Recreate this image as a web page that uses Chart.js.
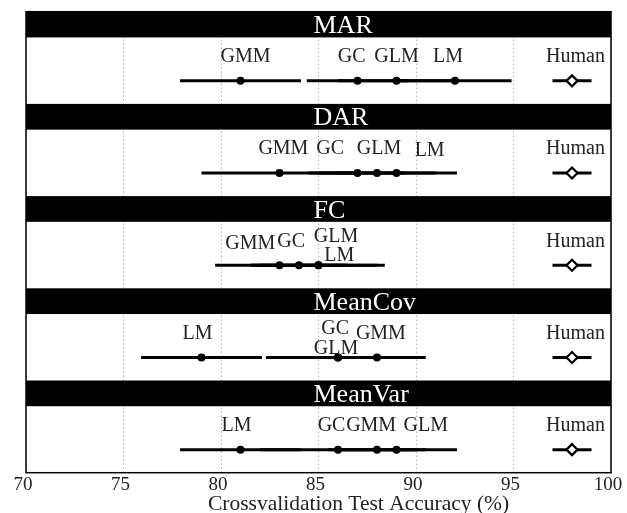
<!DOCTYPE html>
<html><head><meta charset="utf-8">
<script src="https://cdn.jsdelivr.net/npm/chart.js@4/dist/chart.umd.min.js"></script>
<style>html,body{margin:0;padding:0;background:#fff}</style>
</head><body>
<canvas id="c" width="627" height="513"></canvas>
<script>
// ---- data ----
const panels = ['MAR', 'DAR', 'FC', 'MeanCov', 'MeanVar'];
const methods = ['GMM', 'GC', 'GLM', 'LM'];
const marAcc = [81, 87, 89, 92];
const marErr = [3.1, 2.6, 3.0, 2.9];
const darAcc = [83, 87, 88, 89];
const darErr = [4.0, 2.5, 3.0, 3.1];
const fcAcc = [83, 84, 85, 85];
const fcErr = [3.3, 2.5, 3.4, 3.0];
const meanCovAcc = [88, 86, 86, 79];
const meanCovErr = [2.5, 3.7, 3.0, 3.1];
const meanVarAcc = [88, 86, 89, 81];
const meanVarErr = [2.5, 4.0, 3.1, 3.1];
const humanLabel = 'Human';
const humanAcc = 98;
const humanErr = 1.0;
const xTicks = [70, 75, 80, 85, 90, 95, 100];
const xTitle = 'Crossvalidation Test Accuracy (%)';

// ---- layout (label nudges: dx in data units, dy in px) ----
const labelNudge = [
  [[0.26, 0], [-0.3, 0], [0, 0], [-0.36, 0]],
  [[0.2, 0], [-1.4, 0], [0.1, 0], [1.7, 2]],
  [[-1.5, 2], [-0.4, 0], [0.9, -5], [1.07, 14]],
  [[0.2, 0], [-0.15, -4.5], [-0.1, 15.5], [-0.2, 0]],
  [[-0.3, 0], [-0.33, 0], [1.5, 0], [-0.2, 0]]
];
const humanNudge = 0.18;
const ROW = 0.75;   // marker row inside a panel (panel = 1 unit)
const HEAD = 0.279; // header band height inside a panel
const LABEL_UP = 24;

const accs = [marAcc, darAcc, fcAcc, meanCovAcc, meanVarAcc];
const errs = [marErr, darErr, fcErr, meanCovErr, meanVarErr];

const datasets = [];
accs.forEach((acc, k) => {
  acc.forEach((v, i) => {
    datasets.push({
      label: panels[k] + ' ' + methods[i] + ' range',
      data: [{x: v - errs[k][i], y: k + ROW}, {x: v + errs[k][i], y: k + ROW}],
      showLine: true, borderColor: '#000', borderWidth: 3, pointRadius: 0,
      borderCapStyle: 'butt', order: 2
    });
  });
  datasets.push({
    label: panels[k] + ' human range',
    data: [{x: humanAcc - humanErr, y: k + ROW}, {x: humanAcc + humanErr, y: k + ROW}],
    showLine: true, borderColor: '#000', borderWidth: 3, pointRadius: 0,
    borderCapStyle: 'butt', order: 2
  });
});
datasets.push({
  label: 'methods',
  data: accs.flatMap((acc, k) => acc.map(v => ({x: v, y: k + ROW}))),
  pointStyle: 'circle', pointRadius: 4, backgroundColor: '#000', borderColor: '#000',
  borderWidth: 0, order: 0
});
datasets.push({
  label: 'human',
  data: panels.map((p, k) => ({x: humanAcc, y: k + ROW})),
  pointStyle: 'rectRot', pointRadius: 5.5, backgroundColor: '#fff', borderColor: '#000',
  borderWidth: 2.2, order: 0
});

const SERIF = '"Liberation Serif", "Times New Roman", serif';

const decor = {
  id: 'decor',
  beforeDatasetsDraw(chart) {
    const {ctx, chartArea: a, scales: {x, y}} = chart;
    ctx.save();
    panels.forEach((p, k) => {
      const y0 = y.getPixelForValue(k), y1 = y.getPixelForValue(k + HEAD);
      ctx.fillStyle = '#000';
      ctx.fillRect(a.left, y0, a.right - a.left, y1 - y0);
      ctx.fillStyle = '#fff';
      ctx.font = '26px ' + SERIF;
      ctx.textAlign = 'left';
      ctx.textBaseline = 'alphabetic';
      ctx.fillText(p, x.getPixelForValue(85) - 5, y0 + 21.5);
    });
    ctx.restore();
  },
  afterDatasetsDraw(chart) {
    const {ctx, chartArea: a, scales: {x, y}} = chart;
    ctx.save();
    ctx.font = '20px ' + SERIF;
    ctx.fillStyle = '#222';
    ctx.textAlign = 'center';
    ctx.textBaseline = 'middle';
    accs.forEach((acc, k) => {
      const yp = y.getPixelForValue(k + ROW) - LABEL_UP;
      acc.forEach((v, i) => {
        const n = labelNudge[k][i];
        ctx.fillText(methods[i], x.getPixelForValue(v + n[0]), yp + n[1]);
      });
      ctx.fillText(humanLabel, x.getPixelForValue(humanAcc + humanNudge), yp);
    });
    ctx.strokeStyle = '#000';
    ctx.lineWidth = 1.5;
    ctx.strokeRect(a.left, a.top, a.right - a.left, a.bottom - a.top);
    // axis title
    ctx.font = '21.5px ' + SERIF;
    ctx.textBaseline = 'alphabetic';
    ctx.fillText(xTitle, a.left + (a.right - a.left) * 0.5685, a.bottom + 37.5);
    ctx.restore();
  }
};

new Chart(document.getElementById('c'), {
  type: 'scatter',
  data: {datasets},
  options: {
    responsive: false, animation: false, devicePixelRatio: 1,
    layout: {padding: {left: 26, right: 16, top: 11.7, bottom: 16.3}},
    plugins: {legend: {display: false}, tooltip: {enabled: false}},
    scales: {
      x: {
        type: 'linear', min: 70, max: 100,
        afterBuildTicks: s => { s.ticks = xTicks.map(v => ({value: v})); },
        afterFit: s => { s.paddingLeft = 0; s.paddingRight = 0; },
        ticks: {color: '#222', font: {family: SERIF, size: 19, lineHeight: 1}, padding: 2.5,
          maxRotation: 0, labelOffset: -3},
        grid: {color: '#888', lineWidth: 1, drawTicks: false},
        border: {display: false, dash: [1, 3]},
        title: {display: false}
      },
      y: {type: 'linear', min: 0, max: 5, reverse: true, display: false}
    }
  },
  plugins: [decor]
});
</script>
</body></html>
